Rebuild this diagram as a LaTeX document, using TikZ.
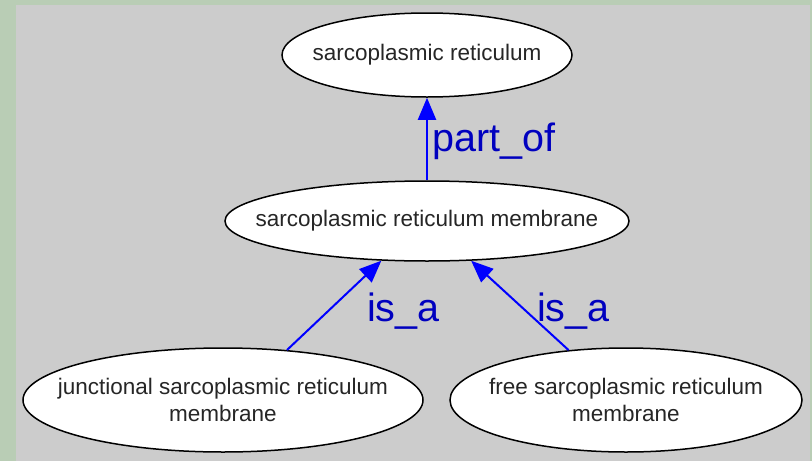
\documentclass[tikz,border=0pt]{standalone}
\usepackage{fontspec}
\setmainfont{Liberation Sans}
\usetikzlibrary{shapes.geometric,arrows.meta}
\definecolor{bordergreen}{RGB}{185,205,181}
\definecolor{bggray}{RGB}{204,204,204}
\definecolor{edgeblue}{RGB}{0,0,255}
\tikzset{
  term/.style={ellipse, draw=black, line width=1.5pt, fill=white, inner sep=0pt},
  termtext/.style={font=\fontsize{22.5}{26.5}\selectfont, align=center, inner sep=0pt, text=black!85},
  rel/.style={draw=edgeblue, line width=2pt, -{Triangle[length=22pt,width=18pt]}},
  rellabel/.style={font=\fontsize{39.5}{42}\selectfont, text=edgeblue!75!black, inner sep=0pt, anchor=base west}
}
\begin{document}
\begin{tikzpicture}[x=1pt,y=-1pt]
\useasboundingbox (0,0) rectangle (812,461);
\fill[bordergreen] (0,0) rectangle (812,461);
\fill[bggray] (16,5) rectangle (810,461);

\node[term, minimum width=290pt, minimum height=84pt,
  label={[termtext]center:sarcoplasmic reticulum}] (sr) at (427,55) {};
\node[term, minimum width=404pt, minimum height=80pt,
  label={[termtext]center:sarcoplasmic reticulum membrane}] (srm) at (427,221) {};
\node[term, minimum width=400pt, minimum height=104pt,
  label={[termtext]center:junctional sarcoplasmic reticulum\\membrane}] (jsrm) at (223,400) {};
\node[term, minimum width=352pt, minimum height=104pt,
  label={[termtext]center:free sarcoplasmic reticulum\\membrane}] (fsrm) at (626,400) {};

\draw[rel] (srm.north) -- (sr.south);
\draw[rel] (jsrm.38) -- (srm.-139.4);
\draw[rel] (fsrm.139.2) -- (srm.-42.4);

\node[rellabel] (lpart) at (432,151) {part\_of};
\node[rellabel] (lisa1) at (367,321) {is\_a};
\node[rellabel] (lisa2) at (537,321) {is\_a};
\end{tikzpicture}
\end{document}
